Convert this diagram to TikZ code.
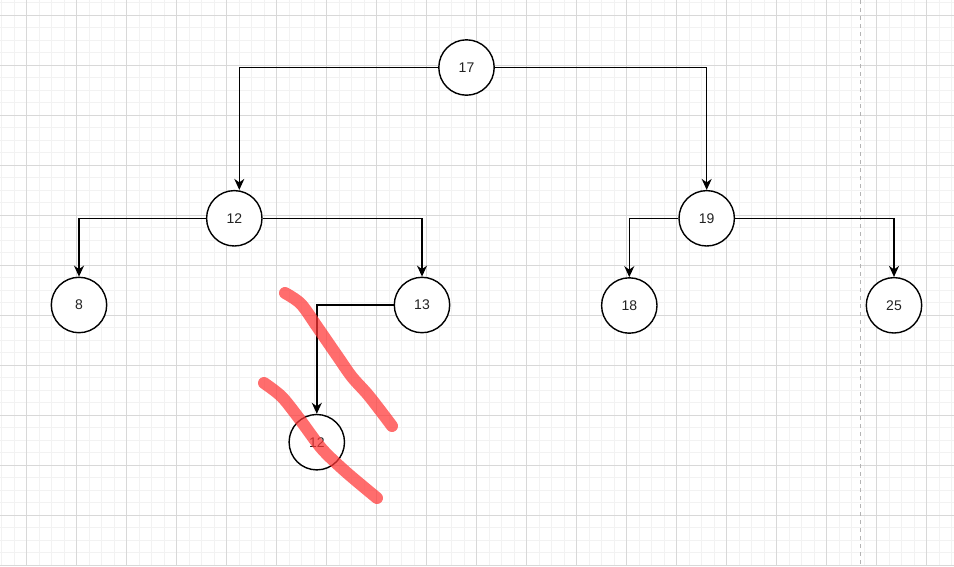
\documentclass[tikz,border=0pt]{standalone}
\usepackage{fontspec}
\setmainfont{Liberation Sans}
\usetikzlibrary{arrows.meta}
\definecolor{minorgrid}{RGB}{242,242,242}
\definecolor{majorgrid}{RGB}{216,216,216}
\definecolor{dashgray}{RGB}{180,180,180}
\definecolor{marker}{RGB}{255,54,54}
\definecolor{txt}{RGB}{34,34,34}
\tikzset{
  treenode/.style={circle, draw=black, fill=white, line width=1.4pt, minimum size=55.4pt, inner sep=0pt, text=txt, font=\fontsize{14}{16}\selectfont},
  treeedge/.style={line width=1.4pt, -{Stealth[length=11pt,width=10pt,inset=3.5pt]}},
  scribble/.style={draw=marker, draw opacity=0.72, line width=12pt, line cap=round, line join=round},
}
\begin{document}
\begin{tikzpicture}[x=1pt,y=-1pt]
\useasboundingbox (0,0) rectangle (954,566);
\fill[white] (0,0) rectangle (954,566);
% minor grid
\foreach \k in {0,...,76} \draw[minorgrid, line width=1pt] ({1.7+12.5*\k},0) -- ({1.7+12.5*\k},566);
\foreach \k in {0,...,45} \draw[minorgrid, line width=1pt] (0,{2.5+12.5*\k}) -- (954,{2.5+12.5*\k});
% major grid
\foreach \k in {0,...,18} \draw[majorgrid, line width=1pt] ({26.7+50*\k},0) -- ({26.7+50*\k},566);
\foreach \k in {0,...,11} \draw[majorgrid, line width=1pt] (0,{15+50*\k}) -- (954,{15+50*\k});
% dashed page border
\draw[dashgray, line width=1pt, dash pattern=on 4pt off 4pt] (860.7,0) -- (860.7,566);
% nodes
\node[treenode] (n17) at (466.5,67.5) {17};
\node[treenode] (n12) at (234.3,218.3) {12};
\node[treenode] (n19) at (706.7,218.3) {19};
\node[treenode] (n8) at (79,305) {8};
\node[treenode] (n13) at (422,305) {13};
\node[treenode] (n18) at (629.3,305.5) {18};
\node[treenode] (n25) at (894,305.3) {25};
\node[treenode] (n12b) at (316.8,442.2) {12};
% edges
\draw[treeedge] (n17.west) -| ([xshift=5pt]n12.north);
\draw[treeedge] (n17.east) -| (n19.north);
\draw[treeedge] (n12.west) -| (n8.north);
\draw[treeedge] (n12.east) -| (n13.north);
\draw[treeedge] (n19.west) -| (n18.north);
\draw[treeedge] (n19.east) -| (n25.north);
\draw[treeedge] (n13.west) -| (n12b.north);
% red scribbles
\draw[scribble] plot[smooth, tension=0.5] coordinates {(285,293) (301,304) (318,328) (338,357) (352,377) (369,396) (392,426)};
\draw[scribble] plot[smooth, tension=0.5] coordinates {(264,383) (282,397) (301,421) (322,449) (346,472) (377,498)};
\end{tikzpicture}
\end{document}
